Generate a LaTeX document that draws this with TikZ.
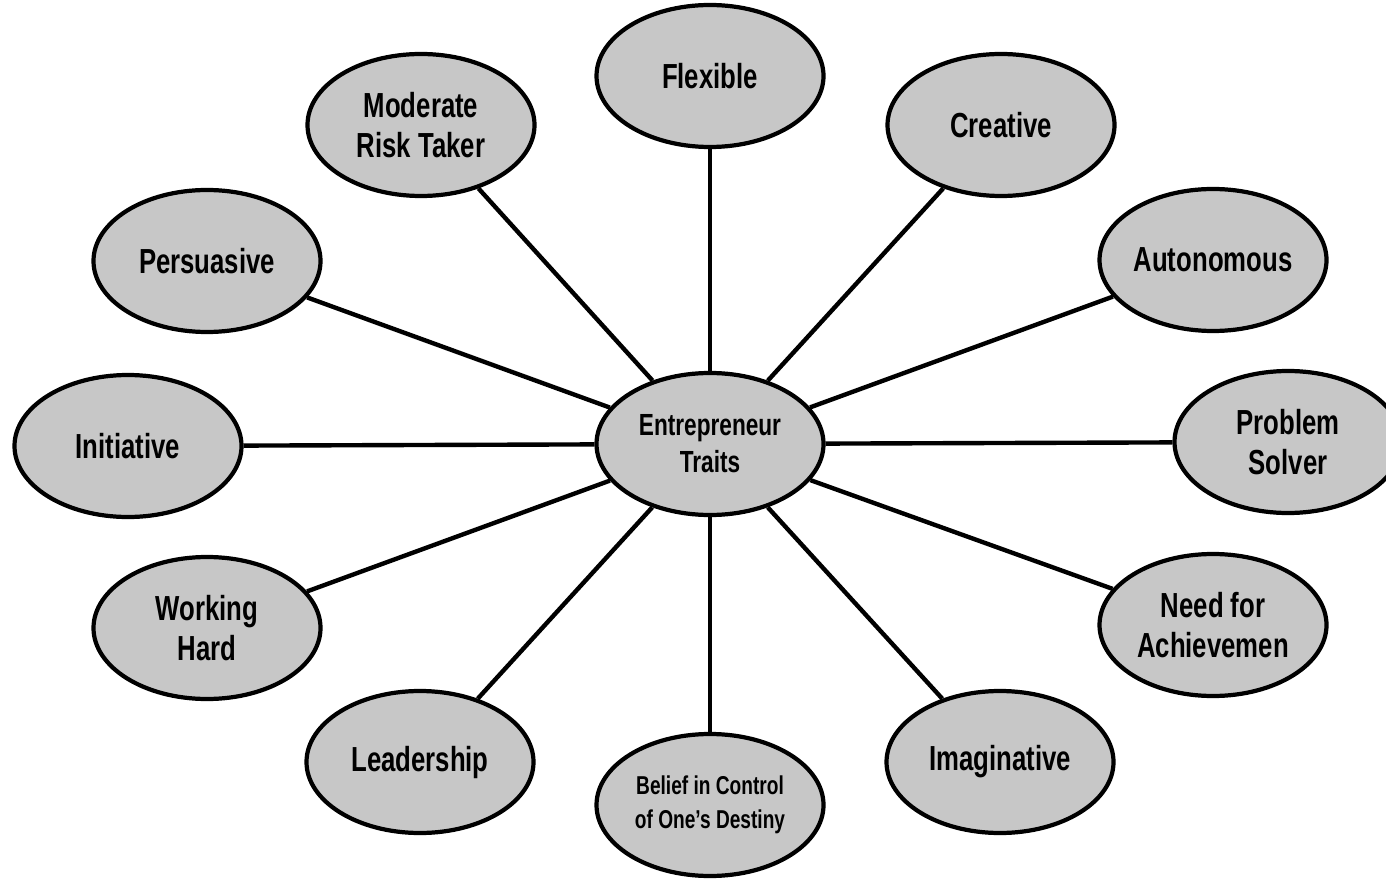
\documentclass[tikz,border=0pt]{standalone}
\usepackage{fontspec}
\setmainfont{Liberation Sans}[FakeStretch=0.74]
\usepackage{tikz}
\usetikzlibrary{shapes.geometric}

\begin{document}
\begin{tikzpicture}[font=\bfseries,
		trait/.style={ellipse, draw, line width=2.4pt, fill=black!22, minimum width=4.54cm, minimum height=2.84cm, inner sep=0pt, align=center, font=\bfseries\fontsize{19.8}{23}\selectfont},
		link/.style={line width=2.5pt}]
			\useasboundingbox (0,0) rectangle (27.72,17.6);
			
			\node (hub) at (14.2,8.72)[trait, font=\bfseries\fontsize{17.4}{21}\selectfont]{Entrepreneur\\Traits};
			
			\node (flex) at (14.2,16.08)[trait]{Flexible};
			\node (risk) at (8.42,15.1)[trait]{Moderate\\Risk Taker};
			\node (creat) at (20.02,15.1)[trait]{Creative};
			\node (pers) at (4.14,12.38)[trait]{Persuasive};
			\node (auto) at (24.26,12.4)[trait]{Autonomous};
			\node (init) at (2.56,8.68)[trait]{Initiative};
			\node (prob) at (25.76,8.76)[trait]{Problem\\Solver};
			\node (work) at (4.14,5.04)[trait]{Working\\Hard};
			\node (need) at (24.26,5.1)[trait]{Need for\\Achievemen};
			\node (lead) at (8.4,2.36)[trait]{Leadership};
			\node (fate) at (14.2,1.5)[trait, font=\bfseries\fontsize{14.7}{19.5}\selectfont]{Belief in Control\\of One's Destiny};
			\node (imag) at (20.0,2.36)[trait]{Imaginative};
			
			\draw[link] (hub) -- (flex);
			\draw[link] (hub) -- (risk);
			\draw[link] (hub) -- (creat);
			\draw[link] (hub) -- (pers);
			\draw[link] (hub) -- (auto);
			\draw[link] (hub) -- (init);
			\draw[link] (hub) -- (prob);
			\draw[link] (hub) -- (work);
			\draw[link] (hub) -- (need);
			\draw[link] (hub) -- (lead);
			\draw[link] (hub) -- (fate);
			\draw[link] (hub) -- (imag);
		\end{tikzpicture}
\end{document}
